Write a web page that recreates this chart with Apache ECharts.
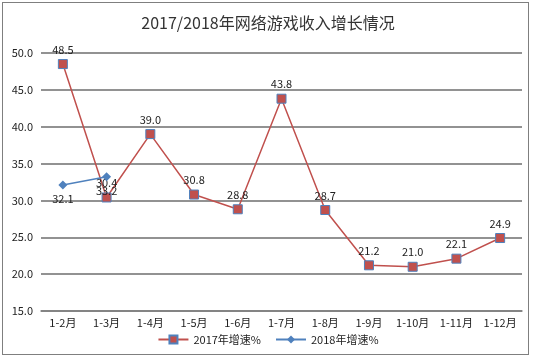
<!DOCTYPE html>
<html><head><meta charset="utf-8">
<script src="https://cdn.jsdelivr.net/npm/echarts@6/dist/echarts.min.js"></script>
<style>
html,body{margin:0;padding:0;background:#fff;}
#frame{position:absolute;left:2px;top:2px;width:527px;height:353px;border:1px solid #7f7f7f;box-sizing:border-box;}
#c{position:absolute;left:0;top:0;width:536px;height:358px;}
</style></head>
<body>
<div id="frame"></div>
<div id="c"></div>
<script>
const categories = ['1-2月','1-3月','1-4月','1-5月','1-6月','1-7月','1-8月','1-9月','1-10月','1-11月','1-12月'];
const growth2017 = [48.5, 30.4, 39.0, 30.8, 28.8, 43.8, 28.7, 21.2, 21.0, 22.1, 24.9];
const growth2018 = [32.1, 33.2];
const seriesNames = ['2017年增速%','2018年增速%'];
const titleText = '2017/2018年网络游戏收入增长情况';

const font = '"Noto Sans CJK SC", "DejaVu Sans", sans-serif';
const chart = echarts.init(document.getElementById('c'));
chart.setOption({
  animation:false,
  textStyle:{fontFamily:font},
  title:{text:titleText,left:'center',top:10,textStyle:{fontSize:16,fontWeight:'normal',color:'#333',fontFamily:font}},
  grid:{left:41,right:14,top:53,bottom:47,containLabel:false},
  legend:{bottom:8,left:'center',itemGap:14,itemWidth:30,itemHeight:10,
    textStyle:{fontSize:11,color:'#222',fontFamily:font},
    data:[{name:seriesNames[0]},{name:seriesNames[1]}]},
  xAxis:{type:'category',data:categories,boundaryGap:true,
    axisLine:{show:true,lineStyle:{color:'#808080',width:1.5}},
    axisTick:{show:false},
    axisLabel:{fontSize:11,color:'#222',margin:6,interval:0,fontFamily:font}},
  yAxis:{type:'value',min:15,max:50,interval:5,
    axisLine:{show:false},axisTick:{show:false},
    axisLabel:{fontSize:11,color:'#222',margin:8,formatter:v=>v.toFixed(1),fontFamily:font},
    splitLine:{lineStyle:{color:'#6e6e6e',width:1.5}}},
  series:[
    {name:seriesNames[0],type:'line',data:growth2017,symbol:'rect',symbolSize:9,
     lineStyle:{color:'#C0504D',width:1.5},
     itemStyle:{color:'#C0504D',borderColor:'#4F81BD',borderWidth:1},
     label:{show:true,position:'top',distance:4,fontSize:11,color:'#222',formatter:p=>p.value.toFixed(1),fontFamily:font},
     z:3},
    {name:seriesNames[1],type:'line',data:growth2018,symbol:'diamond',symbolSize:9,
     lineStyle:{color:'#4F81BD',width:1.5},
     itemStyle:{color:'#4F81BD'},
     label:{show:true,position:'bottom',distance:4,fontSize:11,color:'#222',formatter:p=>p.value.toFixed(1),fontFamily:font},
     z:4}
  ]
});
</script>
</body></html>
